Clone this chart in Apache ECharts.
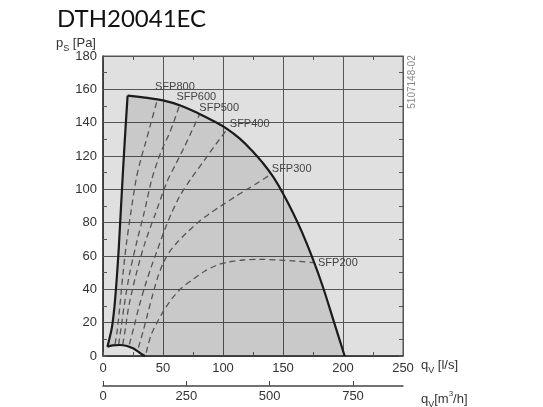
<!DOCTYPE html>
<html><head><meta charset="utf-8">
<script src="https://cdn.jsdelivr.net/npm/echarts@6/dist/echarts.min.js"></script>
<style>html,body{margin:0;padding:0;background:#fff}#c{width:543px;height:407px}</style>
</head><body><div id="c"></div>
<script>
// ---- data ----
const chartTitle = 'DTH20041EC';
const xTicksLs = [0, 50, 100, 150, 200, 250];
const yTicksPa = [0, 20, 40, 60, 80, 100, 120, 140, 160, 180];
const xTicksM3h = [0, 250, 500, 750];
const docCode = '5107148-02';

// fan curve outline [q l/s, p Pa]
const outlineRight = [[201.4,0],[192,21.5],[183,42],[175,58],[166,74],[158.3,86],[150,97.5],[141.7,107.6],[133,116],[125,122.6],[114,130.4],[103,136.4],[92,141],[80,145.4],[65,150.2],[50,153.4],[35,155],[20.5,156.2]];
const outlineLeft = [[20.5,156.2],[18.2,130],[16.2,105],[14.6,84],[13,63],[11.3,45],[9.6,30],[7.4,17],[3.7,5.6]];
const outlineBottom = [[3.7,5.6],[8,6.4],[14,6.6],[20,6],[25,4.6],[29,2.8],[32,1.2],[35,0]];

const sfpNames = ['SFP800','SFP600','SFP500','SFP400','SFP300','SFP200'];
const sfp800 = [[10,7],[12,16],[14,29.6],[16.7,49.6],[19.6,68],[23.2,86],[27.5,105.6],[31.5,118],[35.5,128],[40,140],[45,153]];
const sfp600 = [[13,7],[15.3,18],[17.6,30],[22.2,49.6],[28,68],[34.3,86],[40.5,105.6],[46,118],[51,127],[55,133],[59.5,141.5],[63.7,150.4]];
const sfp500 = [[16.5,7],[19,18],[21.5,30],[27.8,49.6],[35,68],[44,86],[53,104],[60.5,115],[67.5,125],[74,135],[80.3,144.8]];
const sfp400 = [[22,7],[26,18],[30,29.6],[35,42],[40,53],[45,63],[51,75],[57,85.5],[64,96],[73,106],[84,117],[94,127],[104,136.6]];
const sfp300 = [[29.5,5],[33.3,14.5],[37.3,25.5],[41.5,37],[45.5,47],[50,55.5],[55,62],[61,67.5],[69.5,73.8],[80.6,81],[90,86],[100,90.8],[110,95.5],[120,100],[130,104.4],[139,108.6]];
const sfp200 = [[36,2],[40,12.5],[45,20],[50,26.5],[57,34],[65,40.5],[75,46],[85,51],[95,54.5],[105,56.5],[117,57.6],[130,58],[147,57.5],[160,57],[175,56]];

// ---- chart ----
const FONT = 'Liberation Sans, Arial, sans-serif';
const sfpData = [sfp800, sfp600, sfp500, sfp400, sfp300, sfp200];
const labelOffsets = [[-2,-14],[-3,-8],[0,-7],[2,-4],[2,-6],[5,0]];
const polygonPts = outlineRight.concat(outlineLeft.slice(1), outlineBottom.slice(1));

const chart = echarts.init(document.getElementById('c'), null, {renderer: 'canvas'});

const sfpSeries = sfpData.map((d, i) => ({
  type: 'line', name: sfpNames[i], data: d, smooth: 0.3, showSymbol: false, silent: true,
  xAxisIndex: 0, yAxisIndex: 0,
  lineStyle: {color: '#555', width: 1.3, type: [6, 4]},
  endLabel: {show: true, formatter: sfpNames[i], color: '#444', fontSize: 11, fontFamily: FONT,
    distance: 0, offset: labelOffsets[i]},
  z: 3
}));

const outlineStyle = {color: '#1b1b1b', width: 2.2};
const richName = {
  a: {fontSize: 13, fontFamily: FONT, lineHeight: 16, verticalAlign: 'bottom', fill: '#333'},
  b: {fontSize: 9, fontFamily: FONT, lineHeight: 16, verticalAlign: 'bottom', padding: [0,0,-3,0], fill: '#333'},
  c: {fontSize: 8, fontFamily: FONT, lineHeight: 16, verticalAlign: 'top', fill: '#333'}
};
const option = {
  animation: false,
  title: {text: chartTitle, left: 52, top: 2, textStyle: {fontFamily: 'Lato', fontSize: 24, fontWeight: 'normal', color: '#111'}},
  grid: {left: 103, right: 140, top: 56, bottom: 51, show: true, backgroundColor: '#e0e0e0', borderColor: '#555', borderWidth: 1},
  xAxis: [
    {type: 'value', min: 0, max: 250, interval: 50, position: 'bottom',
     axisLine: {show: true, onZero: false, lineStyle: {color: '#333', width: 1.5}},
     axisTick: {show: true, inside: true, length: 4, lineStyle: {color: '#555'}},
     minorTick: {show: true, splitNumber: 2, length: 4, lineStyle: {color: '#555'}},
     splitLine: {show: true, lineStyle: {color: '#555', width: 1}},
     axisLabel: {color: '#333', fontSize: 13, fontFamily: FONT, margin: 6}},
    {type: 'value', min: 0, max: 900, position: 'bottom', offset: 30,
     axisLine: {show: true, onZero: false, lineStyle: {color: '#444', width: 1.5}},
     axisTick: {show: true, inside: true, length: 5, customValues: xTicksM3h, lineStyle: {color: '#444'}},
     splitLine: {show: false},
     axisLabel: {color: '#333', fontSize: 13, fontFamily: FONT, margin: 4, customValues: xTicksM3h}},
    {type: 'value', min: 0, max: 250, interval: 50, position: 'top',
     axisLine: {show: true, onZero: false, lineStyle: {color: '#555', width: 1}},
     axisTick: {show: true, inside: true, length: 4, lineStyle: {color: '#555'}},
     minorTick: {show: true, splitNumber: 2, length: 4, lineStyle: {color: '#555'}},
     splitLine: {show: false}, axisLabel: {show: false}}
  ],
  yAxis: [
    {type: 'value', min: 0, max: 180, interval: 20, position: 'left',
     axisLine: {show: true, onZero: false, lineStyle: {color: '#333', width: 1.5}},
     axisTick: {show: true, inside: true, length: 4, lineStyle: {color: '#555'}},
     minorTick: {show: true, splitNumber: 2, length: 4, lineStyle: {color: '#555'}},
     splitLine: {show: true, lineStyle: {color: '#555', width: 1}},
     axisLabel: {color: '#333', fontSize: 13, fontFamily: FONT, margin: 6}},
    {type: 'value', min: 0, max: 180, interval: 20, position: 'right',
     axisLine: {show: true, onZero: false, lineStyle: {color: '#555', width: 1}},
     axisTick: {show: true, inside: true, length: 4, lineStyle: {color: '#555'}},
     minorTick: {show: true, splitNumber: 2, length: 4, lineStyle: {color: '#555'}},
     splitLine: {show: false}, axisLabel: {show: false}}
  ],
  graphic: [
    {type: 'text', left: 56, top: 37, style: {text: '{a|p}{b|S}{a| [Pa]}', rich: richName}},
    {type: 'text', left: 421, top: 359, style: {text: '{a|q}{b|V}{a| [l/s]}', rich: richName}},
    {type: 'text', left: 421, top: 390, style: {text: '{a|q}{b|V}{a|[m}{c|3}{a|/h]}', rich: richName}},
    {type: 'text', x: 412, y: 82, rotation: Math.PI / 2, style: {
      text: docCode, fill: '#888', fontSize: 10, fontFamily: FONT, align: 'center', verticalAlign: 'middle'}}
  ],
  series: [
    {type: 'custom', coordinateSystem: 'cartesian2d', xAxisIndex: 0, yAxisIndex: 0, silent: true, z: 1,
     data: [[0, 0]],
     renderItem: function (params, api) {
       return {type: 'polygon', shape: {points: polygonPts.map(p => api.coord(p))},
               style: {fill: 'rgba(0,0,0,0.1)'}};
     }},
    {type: 'line', data: outlineRight, smooth: 0.4, showSymbol: false, silent: true, lineStyle: outlineStyle, z: 4},
    {type: 'line', data: outlineLeft, smooth: 0.3, showSymbol: false, silent: true, lineStyle: outlineStyle, z: 4},
    {type: 'line', data: outlineBottom, smooth: 0.4, showSymbol: false, silent: true, lineStyle: outlineStyle, z: 4}
  ].concat(sfpSeries)
};
chart.setOption(option);
</script></body></html>
